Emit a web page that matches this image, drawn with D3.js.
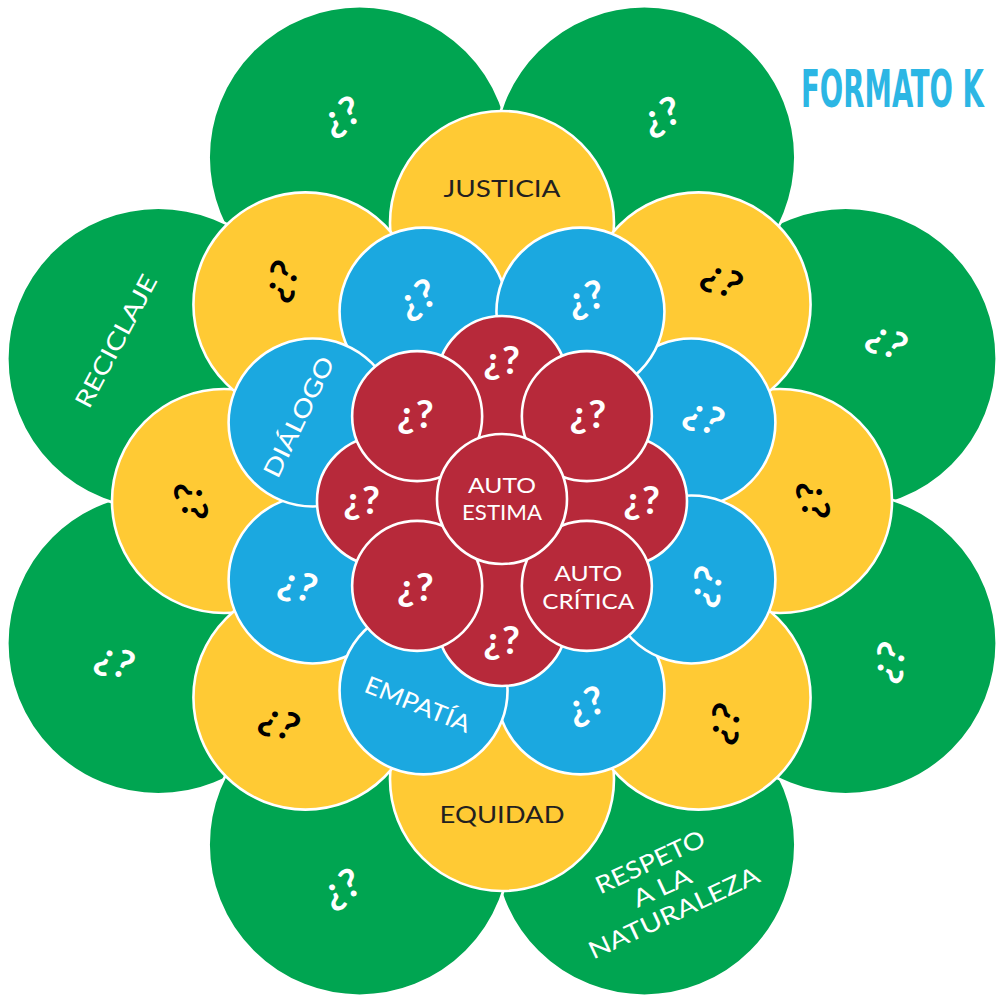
<!DOCTYPE html>
<html>
<head>
<meta charset="utf-8">
<script src="https://cdn.jsdelivr.net/npm/d3@7"></script>
<style>
  html, body { margin: 0; padding: 0; background: #fff; }
  svg { display: block; }
</style>
</head>
<body>
<svg id="flower" width="996" height="1007"></svg>
<script>
// ring labels, clockwise; green/blue start at top-left, yellow/red start at top
var greenLabels  = ["¿?", "¿?", "¿?", "¿?", "RESPETO\nA LA\nNATURALEZA", "¿?", "¿?", "RECICLAJE"];
var yellowLabels = ["JUSTICIA", "¿?", "¿?", "¿?", "EQUIDAD", "¿?", "¿?", "¿?"];
var blueLabels   = ["¿?", "¿?", "¿?", "¿?", "¿?", "EMPATÍA", "¿?", "DIÁLOGO"];
var redLabels    = ["¿?", "¿?", "¿?", "AUTO\nCRÍTICA", "¿?", "¿?", "¿?", "¿?"];
var centerLabel  = "AUTO\nESTIMA";
var title = "FORMATO K";

// tilt of each label (degrees)
var greenTilt  = [-25, -20, 35, -65, -25, -25, 25, -62];
var yellowTilt = [0, 35, 90, -65, 0, 30, -90, -60];
var blueTilt   = [-25, -15, 30, -65, -20, 22, 20, -64];
var redTilt    = [0, 0, 0, 0, 0, 0, 0, 0];

(function () {
  'use strict';

  var svg = d3.select('#flower');
  var cx = 502, cy = 501;

  // width the words get, so they spread like the original lettering
  var wordWidth = {
    'JUSTICIA': 117, 'EQUIDAD': 125, 'AUTO': 68, 'ESTIMA': 80, 'CRÍTICA': 92,
    'RECICLAJE': 147, 'DIÁLOGO': 131, 'EMPATÍA': 112,
    'RESPETO': 118, 'A LA': 62, 'NATURALEZA': 186
  };

  var rings = [
    { labels: greenLabels,  tilt: greenTilt,  offset: -22.5, dist: 372, r: 151, labelDist: 418,
      fill: '#00a551', ink: '#fff', size: 24, lineH: 28 },
    { labels: yellowLabels, tilt: yellowTilt, offset: 0,     dist: 278, r: 112, labelDist: 313,
      fill: '#ffca34', ink: '#000', size: 24, lineH: 28 },
    { labels: blueLabels,   tilt: blueTilt,   offset: -22.5, dist: 205, r: 84,  labelDist: 220,
      fill: '#1ba8e0', ink: '#fff', size: 24, lineH: 28 },
    { labels: redLabels,    tilt: redTilt,    offset: 0,     dist: 120, r: 65,  labelDist: 140, labelDistOdd: 122,
      fill: '#b7293a', ink: '#fff', size: 21, lineH: 27.5 }
  ];

  var angle = d3.scaleLinear().domain([0, 8]).range([0, 2 * Math.PI]);
  var rad = Math.PI / 180;

  function place(a, d) {
    var p = d3.pointRadial(a, d);
    return [cx + p[0], cy + p[1]];
  }

  function drawLabel(g, text, x, y, tilt, ring) {
    var lab = g.append('g')
      .attr('transform', 'translate(' + x + ',' + y + ') rotate(' + tilt + ')');
    if (text === '¿?') {
      lab.append('text')
        .attr('text-anchor', 'middle')
        .attr('dy', '0.34em')
        .style('font-family', 'Lato, "Open Sans", sans-serif')
        .style('font-weight', 'bold')
        .style('font-size', '39px')
        .style('letter-spacing', '1px')
        .style('fill', ring.ink)
        .text(text);
      return;
    }
    var lines = text.split('\n');
    lines.forEach(function (line, i) {
      var t = lab.append('text')
        .attr('text-anchor', 'middle')
        .attr('y', (i - (lines.length - 1) / 2) * ring.lineH)
        .attr('dy', '0.36em')
        .style('font-family', 'Lato, "Open Sans", sans-serif')
        .style('font-size', ring.size + 'px')
        .style('fill', ring.ink === '#000' ? '#231f20' : ring.ink)
        .text(line);
      if (wordWidth[line]) {
        t.attr('textLength', wordWidth[line]).attr('lengthAdjust', 'spacingAndGlyphs');
      }
    });
  }

  rings.forEach(function (ring) {
    var g = svg.append('g').attr('class', 'ring');
    var items = ring.labels.map(function (label, k) {
      var a = angle(k) + ring.offset * rad;
      return { k: k, label: label, a: a, c: place(a, ring.dist) };
    });
    // even ones first, odd ones sit on top of them
    var order = items.filter(function (d) { return d.k % 2 === 0; })
      .concat(items.filter(function (d) { return d.k % 2 === 1; }));

    g.selectAll('circle')
      .data(order)
      .enter().append('circle')
      .attr('cx', function (d) { return d.c[0]; })
      .attr('cy', function (d) { return d.c[1]; })
      .attr('r', ring.r)
      .style('fill', ring.fill)
      .style('stroke', '#fff')
      .style('stroke-width', 2.6);

    items.forEach(function (d) {
      var ld = (d.k % 2 === 1 && ring.labelDistOdd) ? ring.labelDistOdd : ring.labelDist;
      var p = place(d.a, ld);
      drawLabel(g, d.label, p[0], p[1], ring.tilt[d.k], ring);
    });
  });

  // centre circle
  var core = svg.append('g').attr('class', 'core');
  core.append('circle')
    .attr('cx', cx)
    .attr('cy', cy - 2)
    .attr('r', 65)
    .style('fill', '#b7293a')
    .style('stroke', '#fff')
    .style('stroke-width', 2.6);
  drawLabel(core, centerLabel, cx, cy - 2, 0, rings[3]);

  // title: sized to its natural width, then stretched upright to the tall condensed look
  var titleText = svg.append('text')
    .attr('x', 0)
    .attr('y', 0)
    .style('font-family', '"Liberation Sans Narrow", "DejaVu Sans Condensed", sans-serif')
    .style('font-weight', 'bold')
    .style('font-size', '50px')
    .style('fill', '#2cb6e4')
    .text(title);
  var natural = titleText.node().getComputedTextLength();
  var fs = 50 * 183 / natural;
  titleText.style('font-size', fs + 'px');
  var stretch = 37 / (fs * 0.72);
  titleText.attr('transform', 'translate(801,107) scale(1,' + stretch + ')');
}());
</script>
</body>
</html>
